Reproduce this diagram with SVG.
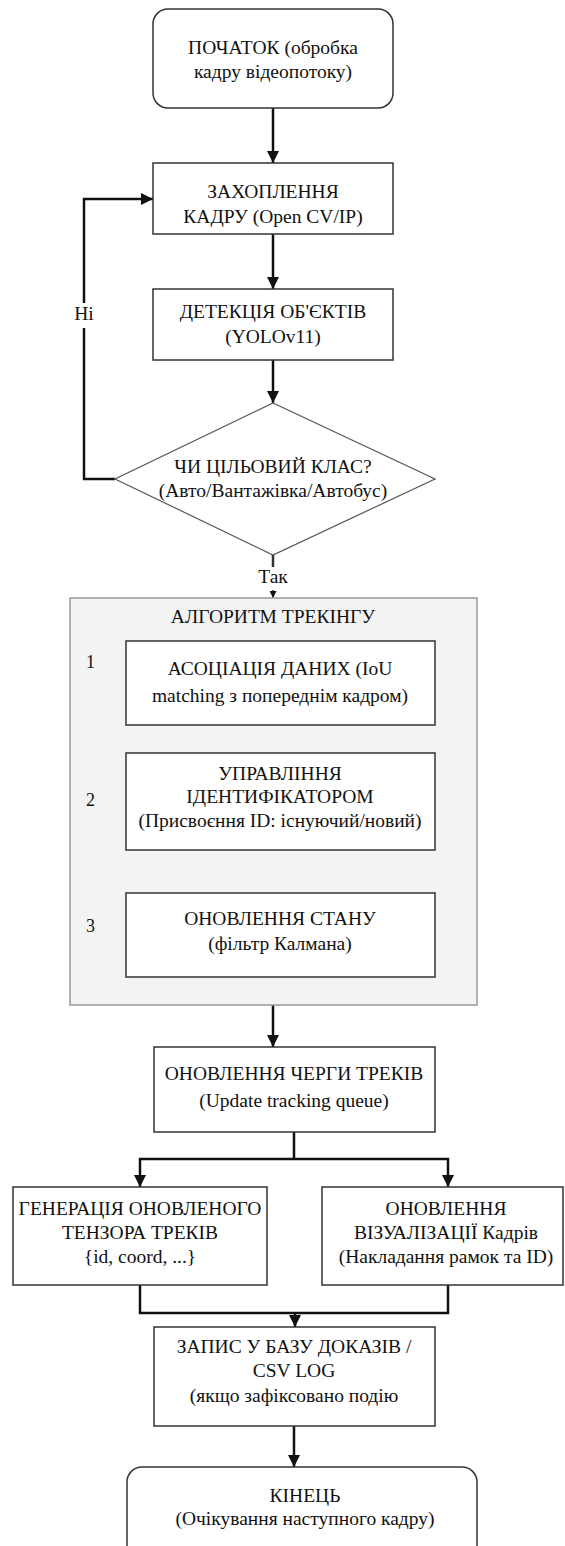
<svg xmlns="http://www.w3.org/2000/svg" width="565" height="1546" viewBox="0 0 565 1546" font-family="'Liberation Serif', 'Times New Roman', serif">
<style>
text{font-family:"Liberation Serif","Times New Roman",serif;font-size:19.5px;fill:#111;text-anchor:middle}
.box{fill:#fff;stroke:#333;stroke-width:1.5}
.dia{fill:#fff;stroke:#555;stroke-width:1.2}
.cont{fill:#f3f3f3;stroke:#999;stroke-width:1.5}
.ln{fill:none;stroke:#111;stroke-width:2.5}
.num{text-anchor:start;font-size:18px}
</style>
<defs>
<marker id="ah" markerUnits="userSpaceOnUse" markerWidth="12" markerHeight="12" refX="12" refY="6" orient="auto"><path d="M0,0 L12,6 L0,12 z" fill="#111"/></marker>
<marker id="ahs" markerUnits="userSpaceOnUse" markerWidth="7" markerHeight="7" refX="7" refY="3.5" orient="auto"><path d="M0,0 L7,3.5 L0,7 z" fill="#111"/></marker>
</defs>
<g id="connectors">
<path class="ln" d="M273,108 V163" marker-end="url(#ah)"/>
<path class="ln" d="M273,234 V289" marker-end="url(#ah)"/>
<path class="ln" d="M273,360 V403" marker-end="url(#ah)"/>
<path class="ln" d="M115,479 H84 V199 H153" marker-end="url(#ah)"/>
<rect x="72" y="303" width="24" height="25" fill="#fff"/>
<text x="84" y="320">Ні</text>
<path d="M273,555 V567" stroke="#333" stroke-width="2.5" fill="none"/>
<text x="273" y="583">Так</text>
<path d="M273,590 V598" stroke="#333" stroke-width="1.5" fill="none" marker-end="url(#ahs)"/>
<path class="ln" d="M273,1005 V1047" marker-end="url(#ah)"/>
<path class="ln" d="M294,1132 V1159"/>
<path class="ln" d="M294,1159 H140 V1187" marker-end="url(#ah)"/>
<path class="ln" d="M294,1159 H448 V1187" marker-end="url(#ah)"/>
<path class="ln" d="M140,1285 V1313 H448 V1285"/>
<path class="ln" d="M295,1313 V1327" marker-end="url(#ah)"/>
<path class="ln" d="M294,1426 V1467" marker-end="url(#ah)"/>
</g>
<g id="start">
<rect class="box" x="153" y="9" width="240" height="99" rx="15"/>
<text x="273" y="54">ПОЧАТОК (обробка</text>
<text x="273" y="78">кадру відеопотоку)</text>
</g>
<g id="capture">
<rect class="box" x="153" y="163" width="240" height="71"/>
<text x="273" y="198">ЗАХОПЛЕННЯ</text>
<text x="273" y="223">КАДРУ (Open CV/IP)</text>
</g>
<g id="detect">
<rect class="box" x="153" y="289" width="240" height="71"/>
<text x="273" y="318">ДЕТЕКЦІЯ ОБ'ЄКТІВ</text>
<text x="273" y="343">(YOLOv11)</text>
</g>
<g id="decision">
<polygon class="dia" points="273,403 435,479 273,555 115,479"/>
<text x="273" y="473">ЧИ ЦІЛЬОВИЙ КЛАС?</text>
<text x="273" y="497">(Авто/Вантажівка/Автобус)</text>
</g>
<g id="tracking">
<rect class="cont" x="70" y="598" width="407" height="407"/>
<text x="273" y="623">АЛГОРИТМ ТРЕКІНГУ</text>
</g>
<g id="step1">
<text class="num" x="86" y="668">1</text>
<rect class="box" x="126" y="641" width="309" height="84"/>
<text x="280" y="675">АСОЦІАЦІЯ ДАНИХ (IoU</text>
<text x="280" y="702">matching з попереднім кадром)</text>
</g>
<g id="step2">
<text class="num" x="86" y="806">2</text>
<rect class="box" x="126" y="753" width="309" height="97"/>
<text x="280" y="780">УПРАВЛІННЯ</text>
<text x="280" y="803">ІДЕНТИФІКАТОРОМ</text>
<text x="280" y="827">(Присвоєння ID: існуючий/новий)</text>
</g>
<g id="step3">
<text class="num" x="86" y="932">3</text>
<rect class="box" x="126" y="893" width="309" height="84"/>
<text x="280" y="925">ОНОВЛЕННЯ СТАНУ</text>
<text x="280" y="950">(фільтр Калмана)</text>
</g>
<g id="queue">
<rect class="box" x="154" y="1047" width="281" height="85"/>
<text x="294" y="1080">ОНОВЛЕННЯ ЧЕРГИ ТРЕКІВ</text>
<text x="294" y="1107">(Update tracking queue)</text>
</g>
<g id="tensor">
<rect class="box" x="13" y="1187" width="254" height="98"/>
<text x="140" y="1215">ГЕНЕРАЦІЯ ОНОВЛЕНОГО</text>
<text x="140" y="1239">ТЕНЗОРА ТРЕКІВ</text>
<text x="140" y="1263">{id, coord, ...}</text>
</g>
<g id="visual">
<rect class="box" x="322" y="1187" width="241" height="98"/>
<text x="446" y="1215">ОНОВЛЕННЯ</text>
<text x="446" y="1239">ВІЗУАЛІЗАЦІЇ Кадрів</text>
<text x="446" y="1263">(Накладання рамок та ID)</text>
</g>
<g id="log">
<rect class="box" x="154" y="1327" width="281" height="99"/>
<text x="294" y="1353">ЗАПИС У БАЗУ ДОКАЗІВ /</text>
<text x="294" y="1377">CSV LOG</text>
<text x="294" y="1402">(якщо зафіксовано подію</text>
</g>
<g id="end">
<rect class="box" x="127" y="1467" width="350" height="100" rx="15"/>
<text x="305" y="1502">КІНЕЦЬ</text>
<text x="305" y="1525">(Очікування наступного кадру)</text>
</g>
</svg>
